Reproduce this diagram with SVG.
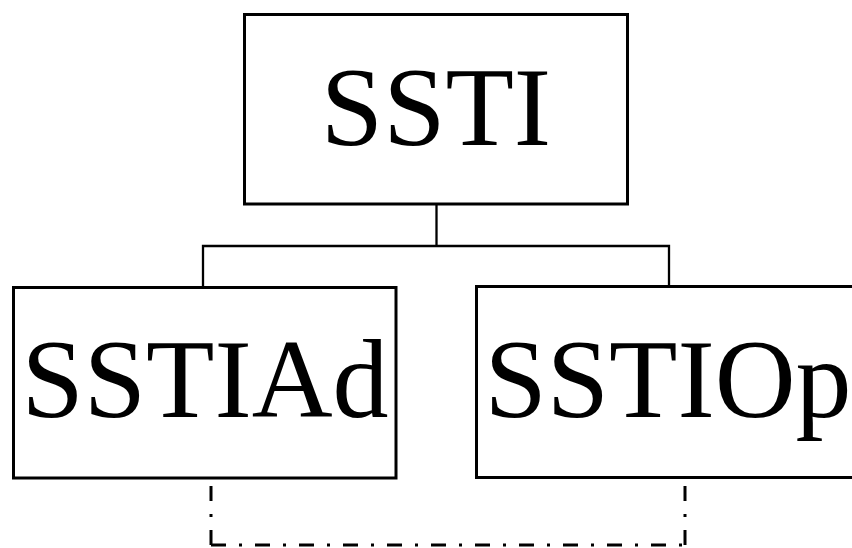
<svg xmlns="http://www.w3.org/2000/svg" width="852" height="548" viewBox="0 0 852 548">
<style>
.box{fill:#fff;stroke:#000;stroke-width:3}
.lbl{font-family:"Liberation Serif","Times New Roman",serif;font-size:112px;fill:#000;text-anchor:middle}
.tree{fill:none;stroke:#000;stroke-width:2.3}
.dd{fill:none;stroke:#000;stroke-width:3;stroke-dasharray:15 13 3 13}
</style>
<rect width="852" height="548" fill="#fff"/>
<g id="connectors">
<path class="tree" d="M436.5,205 V246 M203,287 V246 H669 V287"/>
<line class="dd" x1="211" y1="545" x2="211" y2="479"/>
<line class="dd" x1="211" y1="545" x2="685" y2="545"/>
<line class="dd" x1="685" y1="545" x2="685" y2="478"/>
</g>
<g id="SSTI">
<rect class="box" x="244.5" y="14.5" width="383" height="189.5"/>
<text class="lbl" x="436" y="145">SSTI</text>
</g>
<g id="SSTIAd">
<rect class="box" x="13.5" y="287.5" width="382.5" height="190.5"/>
<text class="lbl" x="205" y="417">SSTIAd</text>
</g>
<g id="SSTIOp">
<rect class="box" x="476.5" y="286.5" width="383" height="191"/>
<text class="lbl" x="668" y="417">SSTIOp</text>
</g>
</svg>
